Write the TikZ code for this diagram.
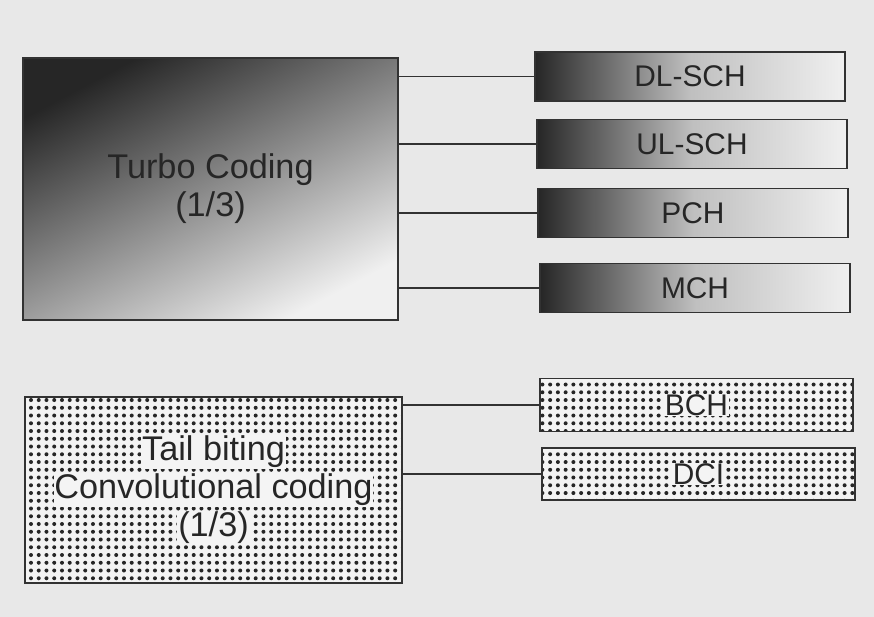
\documentclass[tikz,border=0pt]{standalone}
\usepackage{fontspec}
\setmainfont{Liberation Sans}
\usetikzlibrary{positioning, patterns.meta}
\definecolor{pagebg}{RGB}{232,232,232}
\definecolor{edge}{RGB}{50,50,50}
\newcommand{\halo}[1]{{\setlength{\fboxsep}{0.5pt}\colorbox{pagebg!50!white}{#1}}}

\begin{document}
\begin{tikzpicture}[x=0.02cm, y=-0.02cm,
    every node/.style={font=\fontsize{17}{21.6}\selectfont, text=black!85},
    bigtext/.style={font=\fontsize{19.5}{21.6}\selectfont},
    turbobox/.style={draw=edge, line width=1pt, minimum width=7.5cm, minimum height=5.24cm, align=center,
        top color=black!85, bottom color=gray!12, shading angle=28},
    chanbox/.style={draw=edge, line width=1pt, minimum width=6.2cm, minimum height=0.98cm,
        left color=black!85, right color=gray!12, middle color=gray!50},
    dotbox/.style={draw=edge, line width=1pt, align=center, preaction={fill=pagebg!50!white},
        pattern={Dots[distance=1.55mm, radius=0.4mm]}, pattern color=black!85},
    link/.style={draw=edge, line width=0.9pt}]

    % page
    \fill[pagebg] (0,0) rectangle (874,617);
    \useasboundingbox (0,0) rectangle (874,617);

    % turbo coded channels
    \node[turbobox, bigtext] (turbo) at (210.5,189) {Turbo Coding\\(1/3)};
    \node[chanbox] (dlsch) at (690,76.5) {DL-SCH};
    \node[chanbox] (ulsch) at (692,144) {UL-SCH};
    \node[chanbox] (pch) at (693,213) {PCH};
    \node[chanbox] (mch) at (695,288) {MCH};

    % convolutional coded channels
    \node[dotbox, bigtext, minimum width=7.54cm, minimum height=3.72cm] (conv) at (213.5,490)
        {\halo{Tail biting}\\\halo{Convolutional coding}\\\halo{(1/3)}};
    \node[dotbox, minimum width=6.26cm, minimum height=1.06cm] (bch) at (696.5,405) {\halo{BCH}};
    \node[dotbox, minimum width=6.26cm, minimum height=1.04cm] (dci) at (698.5,474) {\halo{DCI}};

    \draw[link] (dlsch.west) -- (dlsch.west -| turbo.east);
    \draw[link] (ulsch.west) -- (ulsch.west -| turbo.east);
    \draw[link] (pch.west) -- (pch.west -| turbo.east);
    \draw[link] (mch.west) -- (mch.west -| turbo.east);
    \draw[link] (bch.west) -- (bch.west -| conv.east);
    \draw[link] (dci.west) -- (dci.west -| conv.east);
\end{tikzpicture}
\end{document}
